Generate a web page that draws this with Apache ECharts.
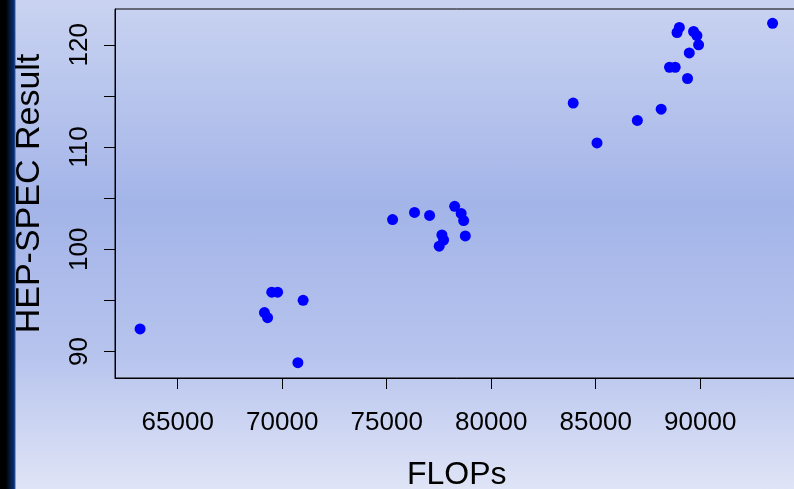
<!DOCTYPE html>
<html><head><meta charset="utf-8">
<script src="https://cdn.jsdelivr.net/npm/echarts@6/dist/echarts.min.js"></script>
<style>
html,body{margin:0;padding:0;overflow:hidden;width:794px;height:489px;}
#bg{position:absolute;left:0;top:0;width:794px;height:489px;
background:
 linear-gradient(to right, #000 0px, #000 6px, #041a3e 10px, #0b2d66 14px, #2a5bb8 15px, rgba(0,0,0,0) 16px),
 linear-gradient(to bottom, #c9d3f1 0%, #a3b4e8 42%, #b6c3ed 72%, #dfe4f6 100%);}
#chart{position:absolute;left:0;top:0;width:800px;height:489px;}
</style></head>
<body>
<div id="bg"></div>
<div id="chart"></div>
<script>
const flops = [63200, 69150, 69300, 69500, 69780, 71000, 70750, 75280, 76330, 77050,
  78250, 78560, 78680, 77640, 77720, 77510, 78760, 83920, 85060, 86990,
  88130, 88530, 88800, 89390, 89475, 88890, 89000, 89680, 89840, 89920, 93460];
const hepspec = [92.2, 93.8, 93.3, 95.8, 95.8, 95.0, 88.9, 102.9, 103.6, 103.3,
  104.2, 103.5, 102.8, 101.4, 100.9, 100.3, 101.3, 114.3, 110.4, 112.6,
  113.7, 117.8, 117.8, 116.7, 119.2, 121.2, 121.7, 121.3, 120.9, 120.0, 122.1];
const xTicks = [65000, 70000, 75000, 80000, 85000, 90000];
const yTicks = [90, 95, 100, 105, 110, 115, 120];
const yLabels = [90, 100, 110, 120];

const FONT = "'Liberation Sans', Arial, sans-serif";
const points = flops.map((f, i) => [f, hepspec[i]]);

const chart = echarts.init(document.getElementById('chart'), null, {renderer: 'canvas'});
chart.setOption({
  backgroundColor: 'transparent',
  animation: false,
  grid: {left: 115, top: 9, width: 683.5, height: 369, outerBoundsMode: 'none', containLabel: false,
    show: true, borderColor: '#000', borderWidth: 1, backgroundColor: 'transparent'},
  xAxis: {
    type: 'value', min: 62000, max: 94700,
    splitLine: {show: false},
    axisLine: {show: true, lineStyle: {color: '#000', width: 1}},
    axisTick: {show: true, length: 11, customValues: xTicks, lineStyle: {color: '#000'}},
    axisLabel: {customValues: xTicks, margin: 32, fontSize: 26, fontFamily: FONT, color: '#000',
      formatter: v => String(v)},
    name: 'FLOPs', nameLocation: 'middle', nameGap: 81,
    nameTextStyle: {fontSize: 32, fontFamily: FONT, color: '#000'}
  },
  yAxis: {
    type: 'value', min: 87.4, max: 123.5,
    splitLine: {show: false},
    axisLine: {show: true, lineStyle: {color: '#000', width: 1}},
    axisTick: {show: true, length: 11, customValues: yTicks, lineStyle: {color: '#000'}},
    axisLabel: {customValues: yLabels, rotate: 90, margin: 22, fontSize: 26, fontFamily: FONT, color: '#000',
      formatter: v => String(v)},
    name: 'HEP-SPEC Result', nameLocation: 'middle', nameGap: 68,
    nameTextStyle: {fontSize: 34, fontFamily: FONT, color: '#000'}
  },
  series: [{
    type: 'scatter', data: points, symbol: 'circle', symbolSize: 11,
    itemStyle: {color: '#0000ff', opacity: 1}
  }]
});
</script>
</body></html>
